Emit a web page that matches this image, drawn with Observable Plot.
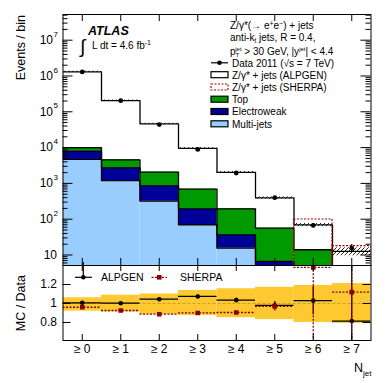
<!DOCTYPE html>
<html><head><meta charset="utf-8">
<script src="https://cdn.jsdelivr.net/npm/d3@7"></script>
<script src="https://cdn.jsdelivr.net/npm/@observablehq/plot@0.6"></script>
<style>
html,body{margin:0;padding:0;background:#fff;}
#wrap{position:relative;width:390px;height:383px;overflow:hidden;font-family:"Liberation Sans",Arial,Helvetica,sans-serif;}
#wrap svg{position:absolute;left:0;}
#overlay{top:0;pointer-events:none;}
</style></head>
<body>
<div id="wrap"></div>
<script>
// ---- data ----
const binLabels = ["≥ 0","≥ 1","≥ 2","≥ 3","≥ 4","≥ 5","≥ 6","≥ 7"];
const dataVals  = [1.3e6, 2.05e5, 4.4e4, 8.9e3, 1.95e3, 400, 67, 15.5];
const dataErr   = [1100, 450, 210, 95, 44, 20, 8, 4];
const alpgenTot = [1.31e6, 2.05e5, 4.6e4, 9.5e3, 2.02e3, 392, 69, 12.7];
const alpgenUnc = [0.04, 0.04, 0.04, 0.05, 0.06, 0.07, 0.10, 0.25];
const sherpaLo  = [1.25e6, 1.9e5, 3.9e4, 8.0e3, 1.77e3, 390, 2, 2];
const sherpaHi  = [1.25e6, 1.9e5, 3.9e4, 8.0e3, 1.77e3, 390, 98, 17.6];
const multijets = [4660, 1200, 318, 70, 15.5, 1.5, 0.5, 0.2];
const electroweak = [3340, 1530, 539, 125, 21.2, 5.1, 1.0, 0.3];
const topQuark  = [2000, 1830, 1203, 494, 158, 49.4, 12.5, 2.5];
// ratio panel
const ratioAlpgen    = [1.007, 1.003, 1.045, 1.074, 1.035, 0.98, 1.03, 0.815];
const ratioAlpgenErr = [0.005, 0.005, 0.008, 0.012, 0.02, 0.04, 0.15, 0.6];
const ratioSherpa    = [0.96, 0.926, 0.887, 0.90, 0.905, 0.97, 1.38, 1.12];
const ratioSherpaErr = [0.01, 0.01, 0.012, 0.015, 0.02, 0.05, 0.9, 0.6];
const bandLo = [0.92, 0.91, 0.884, 0.874, 0.85, 0.83, 0.80, 0.79];
const bandHi = [1.06, 1.087, 1.10, 1.137, 1.155, 1.17, 1.19, 1.21];
// ticks
const yMajor = [10, 1e2, 1e3, 1e4, 1e5, 1e6, 1e7];
const yMajorBase = ["10","10","10","10","10","10","10"];
const yMajorExp  = ["","2","3","4","5","6","7"];
const ratioTicks = [0.8, 1, 1.2];
const ratioTickLabels = ["0.8", "1", "1.2"];

// ---- build tables ----
const rows = binLabels.map((label, i) => {
  const mjCum = multijets[i];
  const ewCum = mjCum + electroweak[i];
  const topCum = ewCum + topQuark[i];
  return {i, c: i + 0.5, label, data: dataVals[i], dErr: dataErr[i],
    alp: alpgenTot[i], alpLo: alpgenTot[i]*(1-alpgenUnc[i]), alpHi: alpgenTot[i]*(1+alpgenUnc[i]),
    shLo: sherpaLo[i], shHi: sherpaHi[i], base: 1, mjCum, ewCum, topCum,
    rA: ratioAlpgen[i], rAe: ratioAlpgenErr[i], rS: ratioSherpa[i], rSe: ratioSherpaErr[i],
    bLo: bandLo[i], bHi: bandHi[i]};
});
const steps = [];
for (const [s, key] of [["alp","alp"],["top","topCum"],["ew","ewCum"],["mj","mjCum"]]) {
  rows.forEach(r => steps.push({s, x: r.i, y: r[key]}));
  steps.push({s, x: 8, y: rows[7][key]});
}
const minors = [];
for (let e = 0; e <= 7; e++) for (let m = 2; m <= 9; m++) {
  const v = m * Math.pow(10, e);
  if (v > 5.09 && v < 5.22e7) minors.push(v);
}
const centers = rows.map(r => r.c);

const FONT = '"Liberation Sans", Arial, Helvetica, sans-serif';
const PW = 308; // frame width
const style = {fontFamily: FONT, background: "transparent", overflow: "visible"};

// ---- main panel ----
const mainH = 266, mainFrameH = 266 - 14 - 1;
const main = Plot.plot({
  width: 390, height: mainH, marginTop: 14, marginBottom: 1, marginLeft: 62.5, marginRight: 19.5,
  x: {domain: [0, 8], axis: null},
  y: {type: "log", domain: [5.09, 5.22e7], axis: null},
  style,
  marks: [
    Plot.rect(rows, {x1: "i", x2: d => d.i + 1, y1: "base", y2: "mjCum", fill: "#99ccff", clip: true}),
    Plot.rect(rows, {x1: "i", x2: d => d.i + 1, y1: "mjCum", y2: "ewCum", fill: "#000099", clip: true}),
    Plot.rect(rows, {x1: "i", x2: d => d.i + 1, y1: "ewCum", y2: "topCum", fill: "#009900", clip: true}),
    Plot.rect(rows, {x1: "i", x2: d => d.i + 1, y1: "alpLo", y2: "alpHi", fill: "url(#hatch)", clip: true}),
    Plot.line(steps, {x: "x", y: "y", z: "s", curve: "step-after", stroke: "black", strokeWidth: 1.3, clip: true}),
    Plot.rect(rows, {x1: "i", x2: d => d.i + 1, y1: "shLo", y2: "shHi", fill: "none", stroke: "#aa0000", strokeWidth: 1.2, strokeDasharray: "2,1.5", clip: true}),
    Plot.ruleX(rows, {x: "c", y1: d => d.data - d.dErr, y2: d => d.data + d.dErr, stroke: "black", strokeWidth: 1.2, clip: true}),
    Plot.dot(rows, {x: "c", y: "data", r: 2.4, fill: "black", stroke: "none", clip: true}),
    // ticks
    Plot.ruleY(yMajor, {insetRight: PW - 10, stroke: "black"}),
    Plot.ruleY(yMajor, {insetLeft: PW - 10, stroke: "black"}),
    Plot.ruleY(minors, {insetRight: PW - 5, stroke: "black"}),
    Plot.ruleY(minors, {insetLeft: PW - 5, stroke: "black"}),
    Plot.ruleX(centers, {insetBottom: mainFrameH - 7, stroke: "black"}),
    Plot.ruleX(centers, {insetTop: mainFrameH - 7, stroke: "black"}),
    Plot.text(yMajor, {y: d => d, text: (d, i) => yMajorBase[i], frameAnchor: "left", textAnchor: "end",
      fontSize: 12, fill: "black"}),
    Plot.text(yMajor, {y: d => d, text: (d, i) => yMajorExp[i], frameAnchor: "left", textAnchor: "end",
      dx: -5, dy: -6, fontSize: 8, fill: "black"}),
    Plot.frame({stroke: "black", strokeWidth: 1})
  ]
});
// shift the "10" labels: those with exponents sit left of it
{
  const texts = main.querySelectorAll("g[aria-label='text']")[0];
  if (texts) texts.querySelectorAll("text").forEach((t, k) => {
    const dx = yMajorExp[k] === "" ? -6 : -10;
    t.setAttribute("transform", (t.getAttribute("transform") || "") + ` translate(${dx},0)`);
  });
}
// hatch pattern
{
  const ns = "http://www.w3.org/2000/svg";
  const defs = document.createElementNS(ns, "defs");
  const pat = document.createElementNS(ns, "pattern");
  pat.setAttribute("id", "hatch"); pat.setAttribute("patternUnits", "userSpaceOnUse");
  pat.setAttribute("width", "4"); pat.setAttribute("height", "4");
  const p = document.createElementNS(ns, "path");
  p.setAttribute("d", "M-1,1 l2,-2 M0,4 l4,-4 M3,5 l2,-2");
  p.setAttribute("stroke", "#111"); p.setAttribute("stroke-width", "0.9");
  pat.appendChild(p); defs.appendChild(pat); main.insertBefore(defs, main.firstChild);
}
main.style.top = "0px";

// ---- ratio panel ----
const rH = 119, rFrameH = 119 - 1 - 43;
const ratio = Plot.plot({
  width: 390, height: rH, marginTop: 1, marginBottom: 43, marginLeft: 62.5, marginRight: 19.5,
  x: {domain: [0, 8], axis: null},
  y: {domain: [0.61, 1.4], axis: null},
  style,
  marks: [
    Plot.rect(rows, {x1: "i", x2: d => d.i + 1, y1: "bLo", y2: "bHi", fill: "#fdc830", clip: true}),
    Plot.ruleY([1], {stroke: "#c8a032", strokeDasharray: "3,2", strokeWidth: 1}),
    Plot.ruleY(rows, {y: "rA", x1: "i", x2: d => d.i + 1, stroke: "black", strokeWidth: 1.2, clip: true}),
    Plot.ruleX(rows, {x: "c", y1: d => d.rA - d.rAe, y2: d => d.rA + d.rAe, stroke: "black", strokeWidth: 1.2, clip: true}),
    Plot.dot(rows, {x: "c", y: "rA", r: 2.3, fill: "black", stroke: "none", clip: true}),
    Plot.ruleY(rows, {y: "rS", x1: "i", x2: d => d.i + 1, stroke: "#8b0000", strokeWidth: 1.3, strokeDasharray: "2,1.5", clip: true}),
    Plot.ruleX(rows, {x: "c", y1: d => d.rS - d.rSe, y2: d => d.rS + d.rSe, stroke: "#8b0000", strokeWidth: 1.3, strokeDasharray: "2,1.5", clip: true}),
    Plot.dot(rows, {x: "c", y: "rS", symbol: "square", r: 2.6, fill: "#8b0000", stroke: "none", clip: true}),
    Plot.ruleY(ratioTicks, {insetRight: PW - 8, stroke: "black"}),
    Plot.ruleY(ratioTicks, {insetLeft: PW - 8, stroke: "black"}),
    Plot.ruleX(centers, {insetBottom: rFrameH - 6, stroke: "black"}),
    Plot.ruleX(centers, {insetTop: rFrameH - 6, stroke: "black"}),
    Plot.text(ratioTicks, {y: d => d, text: (d, i) => ratioTickLabels[i], frameAnchor: "left", textAnchor: "end", dx: -6, fontSize: 12, fill: "black"}),
    Plot.text(rows, {x: "c", text: "label", frameAnchor: "bottom", dy: 12, fontSize: 12, fill: "black"}),
    Plot.frame({stroke: "black", strokeWidth: 1})
  ]
});
ratio.style.top = "264px";

const wrap = document.getElementById("wrap");
wrap.appendChild(main);
wrap.appendChild(ratio);

// ---- annotations / legends ----
const overlay = `
<svg id="overlay" width="390" height="383" xmlns="http://www.w3.org/2000/svg" font-family='${FONT}' fill="black">
  <text x="25" y="15" transform="rotate(-90 25 15)" text-anchor="end" font-size="12.5">Events / bin</text>
  <text x="25" y="275" transform="rotate(-90 25 275)" text-anchor="end" font-size="12.5">MC / Data</text>
  <text x="88" y="35" font-size="12.5" font-weight="bold" font-style="italic">ATLAS</text>
  <text x="80" y="53" font-size="19" font-weight="normal">∫</text>
  <text x="92" y="49" font-size="10">L dt = 4.6 fb<tspan dy="-4" font-size="7">-1</tspan></text>

  <g font-size="10">
    <text x="230" y="29">Z/γ*(→ e<tspan dy="-3.5" font-size="7">+</tspan><tspan dy="3.5">e</tspan><tspan dy="-3.5" font-size="7">−</tspan><tspan dy="3.5">) + jets</tspan></text>
    <text x="230" y="41">anti-k<tspan dy="2" font-size="6.5">t</tspan><tspan dy="-2"> jets, R = 0.4,</tspan></text>
    <text x="230" y="54.5">p<tspan dy="2" font-size="6">T</tspan><tspan dx="-4" dy="-5.5" font-size="6">jet</tspan><tspan dy="3.5"> &gt; 30 GeV, |y</tspan><tspan dy="-3.5" font-size="6">jet</tspan><tspan dy="3.5">| &lt; 4.4</tspan></text>
    <text x="232" y="66.5">Data 2011 (√s = 7 TeV)</text>
    <text x="232" y="78.6">Z/γ* + jets (ALPGEN)</text>
    <text x="232" y="90.8">Z/γ* + jets (SHERPA)</text>
    <text x="232" y="103">Top</text>
    <text x="232" y="115.3">Electroweak</text>
    <text x="232" y="127.6">Multi-jets</text>
  </g>
  <line x1="211" x2="228" y1="62.8" y2="62.8" stroke="black" stroke-width="1.2"/>
  <circle cx="219.5" cy="62.8" r="2.3"/>
  <rect x="211" y="71.7" width="17" height="6" fill="white" stroke="black" stroke-width="1.2"/>
  <rect x="211" y="84" width="17" height="6" fill="white" stroke="#aa0000" stroke-width="1.2" stroke-dasharray="2,1.5"/>
  <rect x="211" y="96.2" width="17" height="6" fill="#009900" stroke="black" stroke-width="1.2"/>
  <rect x="211" y="108.5" width="17" height="6" fill="#000099" stroke="black" stroke-width="1.2"/>
  <rect x="211" y="120.8" width="17" height="6" fill="#99ccff" stroke="black" stroke-width="1.2"/>

  <line x1="75" x2="92" y1="277.3" y2="277.3" stroke="black" stroke-width="1.2"/>
  <line x1="83.3" x2="83.3" y1="262" y2="277.3" stroke="black" stroke-width="1.2"/>
  <circle cx="83.3" cy="277.3" r="2.3"/>
  <text x="101" y="281" font-size="10.5">ALPGEN</text>
  <line x1="151.5" x2="167" y1="277.3" y2="277.3" stroke="#8b0000" stroke-width="1.3" stroke-dasharray="2,1.5"/>
  <rect x="157" y="275" width="4.6" height="4.6" fill="#8b0000"/>
  <text x="180" y="281" font-size="10.5">SHERPA</text>

  <text x="354" y="372" font-size="12.5">N</text>
  <text x="363" y="376" font-size="8">jet</text>
</svg>`;
wrap.insertAdjacentHTML("beforeend", overlay);
</script>
</body></html>
